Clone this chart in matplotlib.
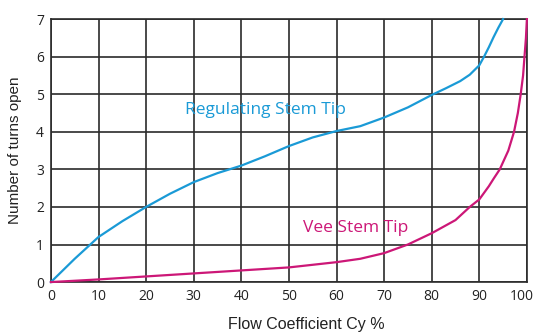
import matplotlib.pyplot as plt
from matplotlib.transforms import ScaledTranslation

# Regulating stem tip: flow coefficient (%) vs turns open
reg_cv = [0, 5, 10, 15, 20, 25, 30, 35, 40, 45, 50, 55, 60, 65, 70, 75, 80, 83, 86, 88, 90, 91, 92, 93, 94, 95]
reg_turns = [0, 0.62, 1.2, 1.62, 2.0, 2.35, 2.66, 2.9, 3.1, 3.35, 3.62, 3.85, 4.02, 4.15, 4.38, 4.65, 4.98, 5.16, 5.35, 5.52, 5.77, 6.0, 6.25, 6.52, 6.77, 7.0]

# Vee stem tip
vee_cv = [0, 10, 20, 30, 40, 50, 60, 65, 70, 75, 80, 85, 88, 90, 92, 93, 94.3, 95.2, 96.1, 97.3, 98.1, 98.7, 99.2, 99.5, 99.8, 100]
vee_turns = [0, 0.07, 0.15, 0.23, 0.31, 0.39, 0.53, 0.62, 0.77, 1.0, 1.3, 1.65, 2.0, 2.2, 2.55, 2.75, 3.0, 3.25, 3.5, 4.0, 4.5, 5.0, 5.5, 6.0, 6.5, 7.0]

x_ticks = list(range(0, 101, 10))
y_ticks = list(range(0, 8))

blue = '#1a9ad6'
magenta = '#cc1777'

fig = plt.figure(figsize=(5.36, 3.35), dpi=100)
ax = fig.add_axes([0.095, 0.158, 0.888, 0.785])

ax.plot(reg_cv, reg_turns, color=blue, lw=1.6, clip_on=False, zorder=3)
ax.plot(vee_cv, vee_turns, color=magenta, lw=1.6, clip_on=False, zorder=3)

ax.set_xlim(0, 100)
ax.set_ylim(0, 7)
ax.set_xticks(x_ticks)
ax.set_yticks(y_ticks)
ax.grid(True, color='#2b2b2b', lw=1.2)
for s in ax.spines.values():
    s.set_color('#2b2b2b')
    s.set_linewidth(1.2)
ax.tick_params(length=0, pad=5, labelsize=10, colors='#222222')
for lab in ax.get_xticklabels() + ax.get_yticklabels():
    lab.set_fontfamily('Open Sans')

# keep the last x label inside the figure
last = ax.get_xticklabels()[-1]
last.set_transform(last.get_transform() + ScaledTranslation(-5 / 100, 0, fig.dpi_scale_trans))

ax.text(28.2, 4.57, 'Regulating Stem Tip', color=blue, fontsize=12.5,
        fontfamily='Open Sans', va='center', ha='left', zorder=4)
ax.text(52.9, 1.44, 'Vee Stem Tip', color=magenta, fontsize=12.5,
        fontfamily='Open Sans', va='center', ha='left', zorder=4)

ax.set_ylabel('Number of turns open', fontsize=11, fontfamily='Liberation Sans',
              color='#222222', labelpad=10)
fig.text(306 / 536, 1 - 325 / 335, 'Flow Coefficient Cy %', fontsize=11.5,
         fontfamily='Liberation Sans', color='#222222', ha='center', va='center')

fig.savefig('out.png', dpi=100)
